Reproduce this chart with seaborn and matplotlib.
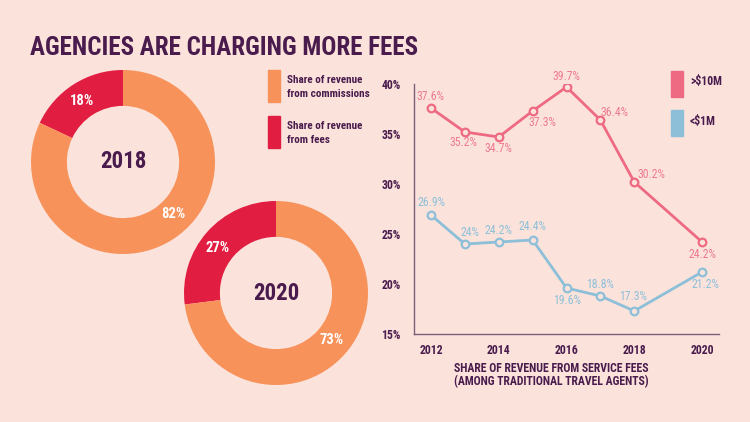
import numpy as np
import pandas as pd
import matplotlib.pyplot as plt
from matplotlib import font_manager
from matplotlib.patches import Rectangle
import seaborn as sns

# ---- data -------------------------------------------------------------
DONUT_YEARS = ['2018', '2020']
FEES_SHARE = [18, 27]
COMMISSION_SHARE = [82, 73]

YEARS = [2012, 2013, 2014, 2015, 2016, 2017, 2018, 2020]
BIG_AGENCIES = [37.6, 35.2, 34.7, 37.3, 39.7, 36.4, 30.2, 24.2]     # >$10M
SMALL_AGENCIES = [26.9, 24.0, 24.2, 24.4, 19.6, 18.8, 17.3, 21.2]   # <$1M
SERIES_NAMES = ['>\\$10M', '<\\$1M']
YEAR_TICKS = [2012, 2014, 2016, 2018, 2020]
PCT_TICKS = [15, 20, 25, 30, 35, 40]

# ---- style ------------------------------------------------------------
BG = '#fbe3dc'
PURPLE = '#4a1c4d'
ORANGE = '#f7925a'
RED = '#e11d41'
PINK = '#ee6a82'
BLUE = '#8dbfd9'
AXIS = '#7d5c7b'

sns.set_style('white')
installed = {f.name for f in font_manager.fontManager.ttflist}
FONT = next(f for f in ['Roboto Condensed', 'Liberation Sans Narrow', 'DejaVu Sans Condensed',
                        'Liberation Sans', 'DejaVu Sans'] if f in installed)
plt.rcParams['font.family'] = [FONT, 'DejaVu Sans']
plt.rcParams['font.weight'] = 'bold'

W, H = 750, 422


def fx(x):
    return x / W


def fy(y):
    return 1 - y / H


fig = plt.figure(figsize=(W / 100, H / 100), dpi=100, facecolor=BG)

fig.text(fx(30), fy(48), 'AGENCIES ARE CHARGING MORE FEES', color=PURPLE,
         fontsize=18, fontweight='bold', va='center', ha='left')

# ---- donuts -----------------------------------------------------------
donut_boxes = [(31, 162), (184, 293)]      # left, centre-y in px
pct_pos = [((-0.45, 0.66), (0.55, -0.57)), ((-0.63, 0.49), (0.60, -0.51))]
R = 92
for (left, cy), year, fee, com, (pf, pc) in zip(donut_boxes, DONUT_YEARS, FEES_SHARE,
                                              COMMISSION_SHARE, pct_pos):
    ax = fig.add_axes([fx(left), fy(cy + R), 2 * R / W, 2 * R / H])
    ax.pie([fee, com], colors=[RED, ORANGE], startangle=90, counterclock=True,
           wedgeprops=dict(width=0.39, linewidth=0))
    ax.set_xlim(-1, 1)
    ax.set_ylim(-1, 1)
    ax.set_aspect('equal')
    ax.text(0, 0, year, ha='center', va='center', color=PURPLE, fontsize=16.5,
            fontweight='bold')
    ax.text(*pf, f'{fee}%', ha='center', va='center', color='white', fontsize=10.5)
    ax.text(*pc, f'{com}%', ha='center', va='center', color='white', fontsize=10.5)

# left legend
for y0, col, lines in [(70, ORANGE, ('Share of revenue', 'from commissions')),
                       (116, RED, ('Share of revenue', 'from fees'))]:
    fig.patches.append(Rectangle((fx(268), fy(y0 + 32)), 12 / W, 32 / H,
                                 transform=fig.transFigure, color=col))
    fig.text(fx(287), fy(y0 + 10), lines[0], color=PURPLE, fontsize=8, va='center')
    fig.text(fx(287), fy(y0 + 24), lines[1], color=PURPLE, fontsize=8, va='center')

# ---- line chart -------------------------------------------------------
ax = fig.add_axes([fx(414), fy(334), (719 - 414) / W, (334 - 84) / H])
ax.set_facecolor(BG)

offsets = {
    'big': [(0, 11), (-1, -11), (0, -11), (10, -11), (0, 11), (14, 8), (17, 8), (0, -12)],
    'small': [(1, 12), (5, 12), (0, 12), (0, 13), (1, -12), (0, 12), (-1, 15), (3, -13)],
}
for key, vals, col, lab_col in [('big', BIG_AGENCIES, PINK, '#ee7a8e'),
                                ('small', SMALL_AGENCIES, BLUE, '#8dbfd9')]:
    df = pd.DataFrame({'year': YEARS, 'share': vals})
    sns.lineplot(data=df, x='year', y='share', ax=ax, color=col, linewidth=2,
                 marker='o', markersize=5.5, markeredgewidth=1.6,
                 markeredgecolor=col, markerfacecolor=BG, legend=False)
    for x, v, (dx, dy) in zip(YEARS, vals, offsets[key]):
        ax.annotate(f'{v:g}%', (x, v), xytext=(dx, dy), textcoords='offset pixels',
                    ha='center', va='center', color=lab_col, fontsize=8.5,
                    fontweight='normal')

ax.set_xlim(2011.5, 2020.5)
ax.set_ylim(15, 40)
ax.set_xticks(YEAR_TICKS)
ax.set_xticks(np.arange(2012.5, 2021, 1), minor=True)
ax.set_yticks(PCT_TICKS)
ax.set_yticklabels([f'{t}%' for t in PCT_TICKS])
ax.tick_params(axis='x', which='major', length=0, pad=7, labelsize=8.5, labelcolor=PURPLE)
ax.tick_params(axis='x', which='minor', length=4, direction='in', color=AXIS, width=1)
ax.tick_params(axis='y', length=5, direction='inout', color=AXIS, width=1, pad=7,
               labelsize=8.5, labelcolor=PURPLE)
for s in ['top', 'right']:
    ax.spines[s].set_visible(False)
for s in ['left', 'bottom']:
    ax.spines[s].set_color(AXIS)
    ax.spines[s].set_linewidth(1)
ax.set_xlabel('')
ax.set_ylabel('')
fig.text(fx(551), fy(375), 'SHARE OF REVENUE FROM SERVICE FEES\n(AMONG TRADITIONAL TRAVEL AGENTS)',
         color=PURPLE, fontsize=8.5, ha='center', va='center', linespacing=1.05)

# right legend
for y0, col, name in [(71, PINK, SERIES_NAMES[0]), (110, BLUE, SERIES_NAMES[1])]:
    fig.patches.append(Rectangle((fx(671), fy(y0 + 26)), 12 / W, 26 / H,
                                 transform=fig.transFigure, color=col))
    fig.text(fx(690), fy(y0 + 11), name, color=PURPLE, fontsize=8.5, va='center')

fig.savefig('out.png', dpi=100, facecolor=BG)
